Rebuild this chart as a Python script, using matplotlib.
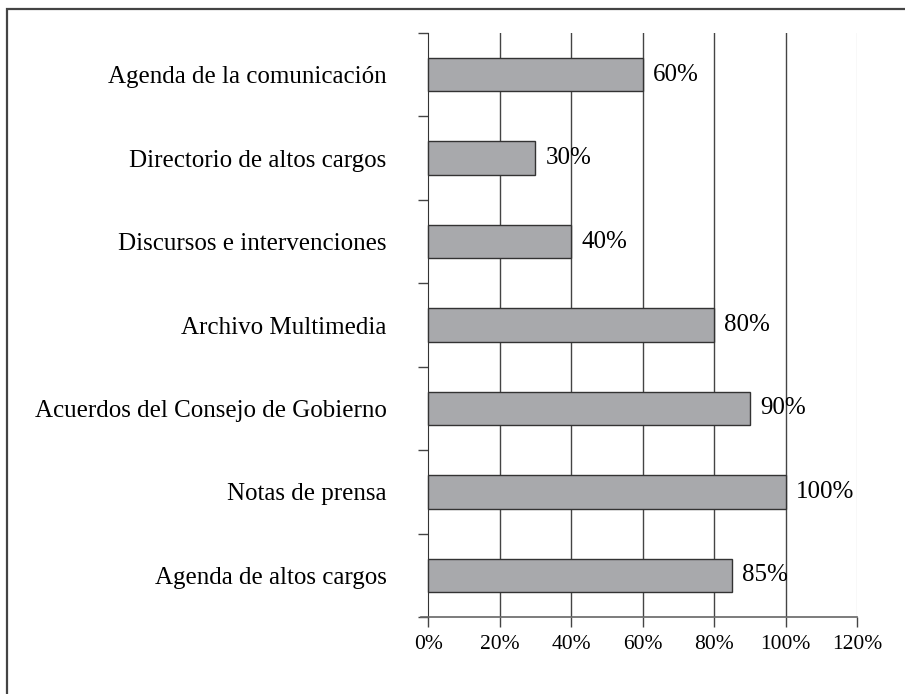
import matplotlib
matplotlib.use('Agg')
import matplotlib.pyplot as plt
from matplotlib.patches import Rectangle

categorias = ['Agenda de la comunicación', 'Directorio de altos cargos',
              'Discursos e intervenciones', 'Archivo Multimedia',
              'Acuerdos del Consejo de Gobierno', 'Notas de prensa',
              'Agenda de altos cargos']
porcentajes = [60, 30, 40, 80, 90, 100, 85]
ticks_x = [0, 20, 40, 60, 80, 100, 120]

plt.rcParams['font.family'] = ['Liberation Serif', 'DejaVu Serif']
fs_cat = 18
fs_val = 18
fs_eje = 15.5

fig = plt.figure(figsize=(9.05, 6.94), dpi=100)
ax = fig.add_axes([421 / 905, 1 - 617 / 694, (857 - 421) / 905, (617 - 33) / 694])

# marco exterior de la figura (solo se ven los lados superior e izquierdo)
fig.patches.append(Rectangle((7 / 905, -0.2), 1.2, 1.2 - 9 / 694, transform=fig.transFigure,
                             fill=False, edgecolor='#444444', linewidth=1.6))

pos = list(range(len(categorias)))
ax.barh(pos, porcentajes, height=0.4, color='#a8a9ac', edgecolor='#333333',
        linewidth=1.0, zorder=3)

for y, v in zip(pos, porcentajes):
    ax.text(v + 2.8, y, f'{v}%', va='center', ha='left', fontsize=fs_val, zorder=4)

# lineas verticales de referencia
for t in ticks_x[1:]:
    col = '#dddddd' if t == 120 else '#444444'
    ax.axvline(t, color=col, linewidth=1.0, zorder=1)

ax.set_xlim(-2, 120)
ax.set_ylim(len(categorias) - 0.5, -0.5)

ax.set_xticks(ticks_x)
ax.set_xticklabels([f'{t}%' for t in ticks_x])
ax.tick_params(axis='x', length=7, width=1.0, color='#444444', pad=6, labelsize=fs_eje)

ax.set_yticks(pos)
ax.set_yticklabels(categorias)
ax.set_yticks([p - 0.5 for p in pos] + [len(pos) - 0.5], minor=True)
ax.tick_params(axis='y', which='major', length=0, pad=30, labelsize=fs_cat)
ax.tick_params(axis='y', which='minor', length=7, width=1.0, color='#444444')

for s in ['top', 'right']:
    ax.spines[s].set_visible(False)
ax.spines['left'].set_position(('data', 0))
ax.spines['left'].set_color('#333333')
ax.spines['bottom'].set_color('#666666')
ax.spines['bottom'].set_linewidth(1.2)

fig.savefig('out.png', dpi=100)
